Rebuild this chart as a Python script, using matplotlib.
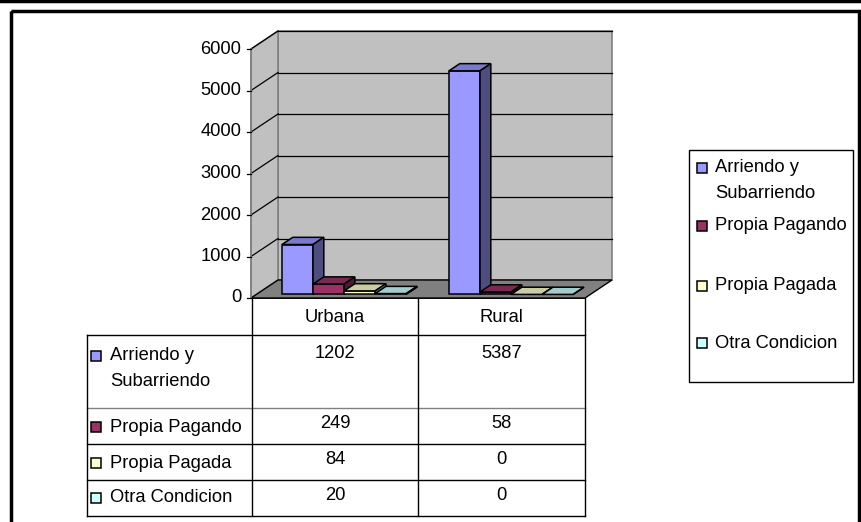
import matplotlib
matplotlib.use('Agg')
import matplotlib.pyplot as plt
from matplotlib.patches import Polygon, Rectangle

plt.rcParams['font.family'] = ['Liberation Sans', 'DejaVu Sans']

# data
categories = ['Urbana', 'Rural']
series_names = ['Arriendo y\nSubarriendo', 'Propia Pagando', 'Propia Pagada', 'Otra Condicion']
arriendo = [1202, 5387]
propia_pagando = [249, 58]
propia_pagada = [84, 0]
otra = [20, 0]
values = [arriendo, propia_pagando, propia_pagada, otra]
colors = ['#9999FF', '#993366', '#FFFFCC', '#CCFFFF']
yticks = [0, 1000, 2000, 3000, 4000, 5000, 6000]


def shade(c, f):
    c = matplotlib.colors.to_rgb(c)
    return tuple(v * f for v in c)


W, H = 861, 522
fig = plt.figure(figsize=(W / 100, H / 100), dpi=100)

# pixel overlay for frame, table and legend
bg = fig.add_axes([0, 0, 1, 1])
bg.set_xlim(0, W)
bg.set_ylim(H, 0)
bg.axis('off')

# chart axes: x in category units, y in values (front plane)
ax = fig.add_axes([251 / W, (H - 298) / H, 334 / W, 249 / H])
ax.set_xlim(0, len(categories))
ax.set_ylim(0, 6000)
ax.axis('off')
ax.patch.set_visible(False)

DX = 27 / 167.0   # depth offset in category units
DY = 18 / 0.0415  # depth offset in value units
ymax = yticks[-1]
n = len(categories)
wall_c = '#C0C0C0'
edge_c = '#808080'
fs = 13.2

# back wall
ax.add_patch(Polygon([(DX, DY), (n + DX, DY), (n + DX, ymax + DY), (DX, ymax + DY)],
                     closed=True, fc=wall_c, ec=edge_c, lw=1.2, clip_on=False, zorder=1))
# left wall
ax.add_patch(Polygon([(0, 0), (DX, DY), (DX, ymax + DY), (0, ymax)],
                     closed=True, fc=wall_c, ec=edge_c, lw=1.2, clip_on=False, zorder=1))
# floor
ax.add_patch(Polygon([(0, 0), (n, 0), (n + DX, DY), (DX, DY)],
                     closed=True, fc='#808080', ec='black', lw=1, clip_on=False, zorder=1))

# gridlines
for v in yticks[1:]:
    ax.plot([DX, n + DX], [v + DY, v + DY], color='black', lw=0.9, clip_on=False, zorder=2)
    ax.plot([0, DX], [v, v + DY], color='black', lw=0.9, clip_on=False, zorder=2)
ax.plot([0, 0], [0, ymax], color=edge_c, lw=1.2, clip_on=False, zorder=2)

# ticks and labels
for v in yticks:
    ax.plot([-0.025, 0], [v, v], color='black', lw=0.9, clip_on=False, zorder=2)
    ax.text(-0.058, v, str(v), ha='right', va='center', fontsize=fs, zorder=3)

# 3d bars
d0, d1 = 0.2, 0.6
bw = 0.186
start = 0.153
for c in range(n):
    for i, ser in enumerate(values):
        v = ser[c]
        xl = c + start + i * bw
        xr = xl + bw
        fl = (xl + d0 * DX, d0 * DY)
        fr = (xr + d0 * DX, d0 * DY)
        flt = (xl + d0 * DX, v + d0 * DY)
        frt = (xr + d0 * DX, v + d0 * DY)
        brt = (xr + d1 * DX, v + d1 * DY)
        blt = (xl + d1 * DX, v + d1 * DY)
        brb = (xr + d1 * DX, d1 * DY)
        z = 4 + c * 10 + i
        ax.add_patch(Polygon([fl, fr, frt, flt], closed=True, fc=colors[i],
                             ec='black', lw=1.1, clip_on=False, zorder=z))
        ax.add_patch(Polygon([flt, frt, brt, blt], closed=True, fc=shade(colors[i], 0.8),
                             ec='black', lw=1.1, clip_on=False, zorder=z))
        ax.add_patch(Polygon([fr, brb, brt, frt], closed=True, fc=shade(colors[i], 0.5),
                             ec='black', lw=1.1, clip_on=False, zorder=z))

# data table
tab_left, col0, col1, col2 = 87, 252, 418, 585
rows = [298, 335, 408, 444, 480, 516]
bg.plot([col0, col2], [rows[0], rows[0]], color='black', lw=1.2)
bg.plot([tab_left, col2], [rows[1], rows[1]], color='black', lw=1)
bg.plot([tab_left, col2], [rows[2], rows[2]], color='#808080', lw=1)
for r in rows[3:5]:
    bg.plot([tab_left, col2], [r, r], color='black', lw=1)
bg.plot([tab_left, col2], [rows[5], rows[5]], color='black', lw=1)
bg.plot([tab_left, tab_left], [rows[1], rows[5]], color='black', lw=1)
for x in (col0, col1, col2):
    bg.plot([x, x], [rows[0], rows[5]], color='black', lw=1)

col_centers = [(col0 + col1) / 2, (col1 + col2) / 2]
for c, name in enumerate(categories):
    bg.text(col_centers[c], 318, name, ha='center', va='center', fontsize=fs)

row_text_y = [356, 427, 463, 498]
for i, ser in enumerate(values):
    y = row_text_y[i]
    bg.add_patch(Rectangle((91, y - 5), 10, 10, fc=colors[i], ec='black', lw=1.1))
    lines = series_names[i].split('\n')
    for k, line in enumerate(lines):
        bg.text(110, y + k * 25, line, ha='left', va='center', fontsize=fs)
    for c in range(n):
        bg.text(col_centers[c], y - 3, str(ser[c]), ha='center', va='center', fontsize=fs)

# legend
bg.add_patch(Rectangle((689, 150), 164, 232, fc='white', ec='black', lw=1))
leg_y = [168, 226, 286, 343]
for i, name in enumerate(series_names):
    y = leg_y[i]
    bg.add_patch(Rectangle((697, y - 5), 10, 10, fc=colors[i], ec='black', lw=1.1))
    for k, line in enumerate(name.split('\n')):
        bg.text(715, y + k * 25, line, ha='left', va='center', fontsize=fs)

# outer frame
bg.plot([0, W], [1, 1], color='black', lw=2.5)
bg.add_patch(Rectangle((11, 11), 848, 530, fc='none', ec='black', lw=2.5, clip_on=False))

fig.savefig('out.png', dpi=100)
